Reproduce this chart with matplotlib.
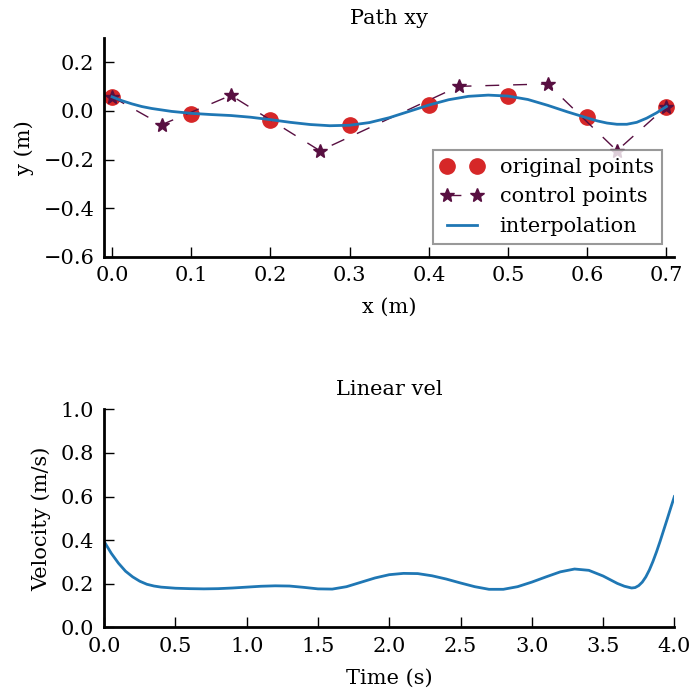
import numpy as np
import matplotlib
matplotlib.use("Agg")
import matplotlib.pyplot as plt

# path data (m)
orig_x = [0.0, 0.1, 0.2, 0.3, 0.4, 0.5, 0.6, 0.7]
orig_y = [0.058, -0.011, -0.036, -0.058, 0.024, 0.061, -0.027, 0.018]

ctrl_x = [0.0, 0.0625, 0.15, 0.2625, 0.4375, 0.55, 0.6375, 0.7]
ctrl_y = [0.058, -0.057, 0.064, -0.164, 0.101, 0.111, -0.164, 0.018]

interp_x = [0.0, 0.0125, 0.025, 0.0375, 0.05, 0.075, 0.1, 0.125, 0.15, 0.175,
            0.2, 0.225, 0.25, 0.275, 0.3, 0.325, 0.35, 0.375, 0.4, 0.425,
            0.45, 0.475, 0.5, 0.525, 0.55, 0.575, 0.6, 0.6125, 0.625, 0.6375,
            0.65, 0.6625, 0.675, 0.6875, 0.7]
interp_y = [0.058, 0.042, 0.029, 0.018, 0.010, -0.002, -0.010, -0.015, -0.019, -0.026,
            -0.036, -0.047, -0.056, -0.061, -0.059, -0.048, -0.028, -0.002, 0.024, 0.046,
            0.060, 0.065, 0.061, 0.047, 0.023, -0.004, -0.029, -0.041, -0.050, -0.055,
            -0.055, -0.047, -0.030, -0.008, 0.018]

# velocity profile
time_s = [0.0, 0.05, 0.1, 0.15, 0.2, 0.25, 0.3, 0.35, 0.4, 0.5,
          0.6, 0.7, 0.8, 0.9, 1.0, 1.1, 1.2, 1.3, 1.4, 1.5,
          1.6, 1.7, 1.8, 1.9, 2.0, 2.1, 2.2, 2.3, 2.4, 2.5,
          2.6, 2.7, 2.8, 2.9, 3.0, 3.1, 3.2, 3.3, 3.4, 3.5,
          3.55, 3.6, 3.65, 3.7, 3.725, 3.75, 3.775, 3.8, 3.825, 3.85,
          3.875, 3.9, 3.925, 3.95, 3.975, 4.0]
vel = [0.394, 0.340, 0.295, 0.258, 0.232, 0.212, 0.198, 0.190, 0.185, 0.180,
       0.178, 0.177, 0.178, 0.181, 0.185, 0.189, 0.191, 0.190, 0.184, 0.177,
       0.176, 0.187, 0.207, 0.227, 0.242, 0.248, 0.247, 0.237, 0.222, 0.204,
       0.187, 0.175, 0.175, 0.187, 0.208, 0.232, 0.255, 0.268, 0.262, 0.236,
       0.219, 0.202, 0.189, 0.181, 0.183, 0.192, 0.208, 0.232, 0.264, 0.303,
       0.347, 0.395, 0.446, 0.497, 0.549, 0.600]

plt.rcParams['font.family'] = ['DejaVu Serif']
plt.rcParams['font.size'] = 15

red = '#d62728'
purple = '#580f41'
blue = '#1f77b4'


def style_axes(ax):
    ax.spines['top'].set_visible(False)
    ax.spines['right'].set_visible(False)
    ax.spines['left'].set_linewidth(2)
    ax.spines['bottom'].set_linewidth(2)
    ax.tick_params(direction='in', length=7, width=1, pad=7,
                   top=False, right=False)


fig = plt.figure(figsize=(6.92, 6.91), dpi=100)

ax1 = fig.add_axes([0.1505, 0.6285, 0.824, 0.3165])
ax1.plot(orig_x, orig_y, 'o', color=red, markersize=11, label='original points')
ax1.plot(ctrl_x, ctrl_y, '*', color=purple, markersize=10, linestyle='--',
         dashes=(10, 10), linewidth=1, label='control points')
ax1.plot(interp_x, interp_y, '-', color=blue, linewidth=2,
         solid_joinstyle='round', label='interpolation')
ax1.set_xlim(-0.01, 0.71)
ax1.set_ylim(-0.6, 0.3)
ax1.set_xticks(np.arange(0, 0.71, 0.1))
ax1.set_yticks(np.arange(-0.6, 0.21, 0.2))
ax1.set_title('Path xy', fontsize=15, pad=10)
ax1.set_xlabel('x (m)', labelpad=9)
ax1.set_ylabel('y (m)', labelpad=7)
style_axes(ax1)
leg = ax1.legend(loc='lower right', numpoints=2, fancybox=False,
                 framealpha=0.8, edgecolor='gray', borderaxespad=0.6)
leg.get_frame().set_linewidth(1.5)

ax2 = fig.add_axes([0.1505, 0.0919, 0.824, 0.3158])
ax2.plot(time_s, vel, color=blue, linewidth=2, solid_joinstyle='round')
ax2.set_xlim(0, 4.0)
ax2.set_ylim(0, 1.0)
ax2.set_xticks(np.arange(0, 4.01, 0.5))
ax2.set_yticks(np.arange(0, 1.01, 0.2))
ax2.set_title('Linear vel', fontsize=15, pad=10)
ax2.set_xlabel('Time (s)', labelpad=9)
ax2.set_ylabel('Velocity (m/s)', labelpad=7)
style_axes(ax2)

fig.savefig('out.png', dpi=100)
